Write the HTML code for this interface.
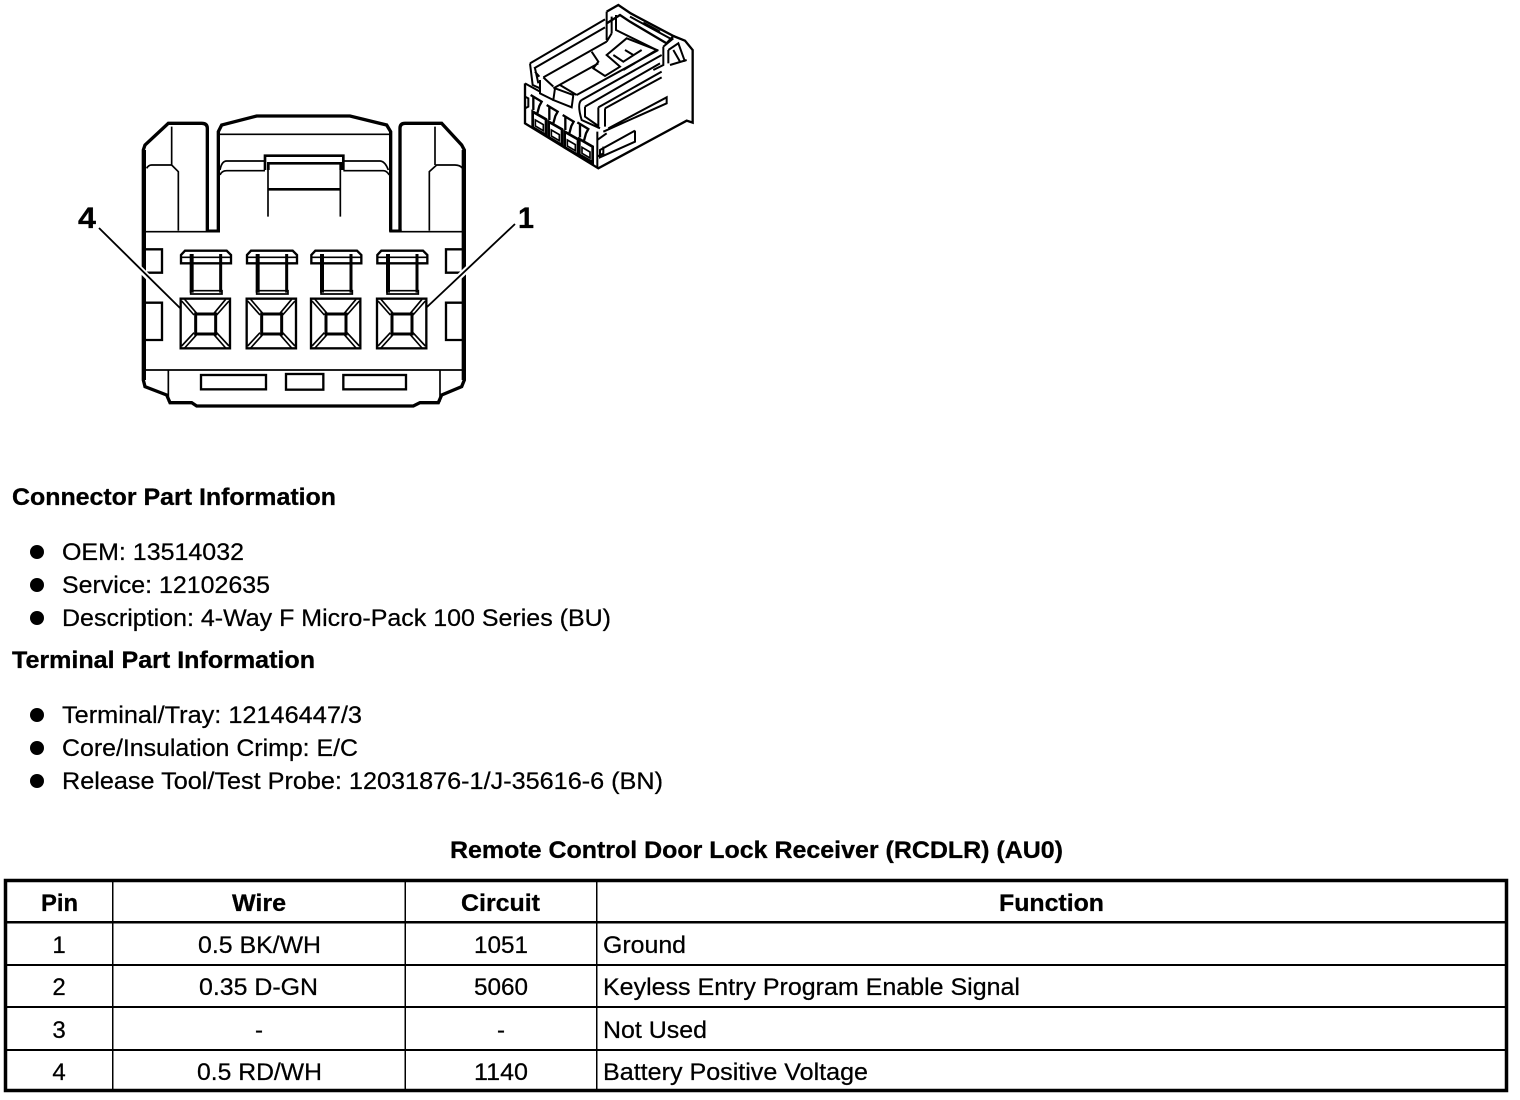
<!DOCTYPE html>
<html><head><meta charset="utf-8"><style>
html,body{margin:0;padding:0;background:#fff}
svg{display:block}
text{font-family:"Liberation Sans",sans-serif;font-size:24px;fill:#000;stroke:#000;stroke-width:.25px}
.b{font-weight:bold;stroke-width:.3px}
.c{fill:none;stroke:#000;stroke-linejoin:miter}
</style></head><body>
<svg width="1520" height="1100" viewBox="0 0 1520 1100" xmlns="http://www.w3.org/2000/svg">
<rect width="1520" height="1100" fill="#fff"/>

<!-- Front connector -->
<g transform="translate(120,100) scale(.33333)" class="c">
 <defs>
  <g id="pin">
   <path stroke-width="7" d="M3 490V465L15 452H140L153 465V490Z"/>
   <path stroke-width="5" d="M3 472H153"/>
   <path stroke-width="12" d="M35 462V578"/>
   <path stroke-width="9" d="M122 462V578"/>
   <path stroke-width="5" d="M32 572H126V582H32Z"/>
   <rect x="2" y="596" width="148" height="149" stroke-width="7"/>
   <rect x="47" y="642" width="60" height="60" stroke-width="9"/>
   <path stroke-width="5" d="M5 603L42 645M14 598L50 640M147 603L110 645M137 598L102 640M5 738L42 698M14 744L50 704M147 738L110 698M137 744L102 704"/>
  </g>
 </defs>
 <path stroke-width="10" d="M262 395V85Q262 70 245 70H145L75 135L70 150V840L75 860L140 885L150 908H215L230 918H880L900 908H955L965 885L1025 860L1033 840V150L1025 135L965 70H855Q840 70 840 85V395"/>
 <path stroke-width="12" d="M72 150V840M1031 150V840"/>
 <path stroke-width="10" d="M295 395V95L305 75L410 48H690L800 75L812 95V395"/>
 <path stroke-width="9" d="M258 393H300M808 393H845"/>
 <path stroke-width="5" d="M78 395H262M840 395H1030M155 80V195M80 205Q85 195 95 195H155L175 215V392M945 80V195M1028 205Q1020 195 1005 195H950L928 215V392M300 103H808"/>
 <path stroke-width="5" d="M300 210Q305 183 320 183H435M805 210Q795 183 780 183H670M300 225Q305 212 320 212H435M670 212H790Q800 212 808 225M444 190V350M661 190V350"/>
 <path stroke-width="8" d="M435 210V167H670V210M445 210V190H662V210M445 268H662"/>
 <path stroke-width="7" d="M78 448H126V518H78M78 608H126V720H78M1030 448H978V518H1030M1030 608H978V720H1030"/>
 <path stroke="#fff" stroke-width="18" d="M45 492L100 547M1060 490L1005 542"/>
 <path stroke-width="5.5" d="M-63 384L180 624M1185 372L921 621"/>
 <path stroke-width="5" d="M78 810H1028M145 810V905M960 810V905"/>
 <rect x="243" y="825" width="195" height="43" stroke-width="7"/>
 <rect x="498" y="822" width="112" height="47" stroke-width="7"/>
 <rect x="670" y="825" width="188" height="43" stroke-width="7"/>
 <use href="#pin" x="180"/>
 <use href="#pin" x="378"/>
 <use href="#pin" x="571"/>
 <use href="#pin" x="769"/>
</g>
<text class="b" x="78" y="228" style="font-size:30px" textLength="18" lengthAdjust="spacingAndGlyphs">4</text>
<text class="b" x="518" y="228" style="font-size:30px" textLength="16" lengthAdjust="spacingAndGlyphs">1</text>

<!-- Isometric connector -->
<g transform="translate(510,0) scale(.33333)" class="c" stroke-width="6">
 <defs>
  <g id="iso">
   <path d="M68 335L108 358V405L68 382Z" stroke-width="8"/>
   <path d="M76 360L100 374V392L76 378Z" stroke-width="5"/>
   <path d="M62 285L95 305L88 318L82 340M70 292V330" stroke-width="7"/>
  </g>
 </defs>
 <path stroke-width="7" d="M45 250V370L265 505L530 362L548 368V150L525 122L490 108"/>
 <path stroke-width="7" d="M290 35L325 15L362 40L490 108L470 130L360 65L330 45L290 70"/>
 <path d="M290 35V120M305 50V100M318 45V90L440 150M360 50L480 115M400 68L450 95"/>
 <path d="M60 190L285 58M72 205L285 82M60 190L68 255L90 265M75 205L85 250M45 250L90 275M75 215L88 230"/>
 <path d="M100 232L290 125M90 240V280L130 300M100 232L130 260M290 125L305 100"/>
 <path d="M130 265L265 190M135 265L130 300L185 322L190 285L135 265M150 255L200 285"/>
 <path d="M245 155L265 185L250 205L285 228L330 200L290 165L350 115L440 150L340 210M310 165L340 185L395 150M345 150L370 165"/>
 <path d="M200 285L445 150M215 300L455 165M225 320L450 190"/>
 <path d="M215 300Q200 310 215 360L270 385M225 320V350L265 378"/>
 <path d="M460 140V195L430 210M475 150V190M460 140L490 115M475 150L505 130L525 185M490 150L510 185M480 195L530 180"/>
 <path d="M265 322L455 215M285 325V380M285 325L455 232M265 322V385"/>
 <path d="M295 385L470 292V310L280 395"/>
 <path d="M375 392L270 450V472L375 425V392M262 395V505M262 420L290 400M262 470L280 460M280 440V465"/>
 <use href="#iso"/>
 <use href="#iso" x="48" y="30"/>
 <use href="#iso" x="96" y="60"/>
 <use href="#iso" x="140" y="82"/>
 <path d="M45 290L55 295V320L45 325"/>
</g>

<!-- Info text -->
<text class="b" x="12" y="505" textLength="324" lengthAdjust="spacingAndGlyphs">Connector Part Information</text>
<circle cx="37" cy="552" r="7"/><circle cx="37" cy="585" r="7"/><circle cx="37" cy="618" r="7"/>
<text x="62" y="560" textLength="182" lengthAdjust="spacingAndGlyphs">OEM: 13514032</text>
<text x="62" y="593" textLength="208" lengthAdjust="spacingAndGlyphs">Service: 12102635</text>
<text x="62" y="626" textLength="549" lengthAdjust="spacingAndGlyphs">Description: 4-Way F Micro-Pack 100 Series (BU)</text>
<text class="b" x="12" y="668" textLength="303" lengthAdjust="spacingAndGlyphs">Terminal Part Information</text>
<circle cx="37" cy="715" r="7"/><circle cx="37" cy="748" r="7"/><circle cx="37" cy="781" r="7"/>
<text x="62" y="723" textLength="300" lengthAdjust="spacingAndGlyphs">Terminal/Tray: 12146447/3</text>
<text x="62" y="756" textLength="296" lengthAdjust="spacingAndGlyphs">Core/Insulation Crimp: E/C</text>
<text x="62" y="789" textLength="601" lengthAdjust="spacingAndGlyphs">Release Tool/Test Probe: 12031876-1/J-35616-6 (BN)</text>
<text class="b" x="450" y="858" textLength="613" lengthAdjust="spacingAndGlyphs">Remote Control Door Lock Receiver (RCDLR) (AU0)</text>

<!-- Table -->
<rect x="5.5" y="880.5" width="1501" height="210" fill="none" stroke="#000" stroke-width="3.5"/>
<g fill="#000">
 <rect x="5" y="921" width="1502" height="2.5"/>
 <rect x="5" y="964" width="1502" height="2"/>
 <rect x="5" y="1006" width="1502" height="2"/>
 <rect x="5" y="1049" width="1502" height="2"/>
 <rect x="112" y="880" width="1.5" height="210"/>
 <rect x="404.5" y="880" width="1.5" height="210"/>
 <rect x="596" y="880" width="1.5" height="210"/>
</g>
<text class="b" x="41" y="911" textLength="37" lengthAdjust="spacingAndGlyphs">Pin</text>
<text class="b" x="232" y="911" textLength="54" lengthAdjust="spacingAndGlyphs">Wire</text>
<text class="b" x="461" y="911" textLength="79" lengthAdjust="spacingAndGlyphs">Circuit</text>
<text class="b" x="999" y="911" textLength="105" lengthAdjust="spacingAndGlyphs">Function</text>

<text x="59" y="953" text-anchor="middle">1</text>
<text x="198" y="953" textLength="123" lengthAdjust="spacingAndGlyphs">0.5 BK/WH</text>
<text x="474" y="953" textLength="54" lengthAdjust="spacingAndGlyphs">1051</text>
<text x="603" y="953" textLength="83" lengthAdjust="spacingAndGlyphs">Ground</text>

<text x="59" y="995" text-anchor="middle">2</text>
<text x="199" y="995" textLength="119" lengthAdjust="spacingAndGlyphs">0.35 D-GN</text>
<text x="474" y="995" textLength="54" lengthAdjust="spacingAndGlyphs">5060</text>
<text x="603" y="995" textLength="417" lengthAdjust="spacingAndGlyphs">Keyless Entry Program Enable Signal</text>

<text x="59" y="1038" text-anchor="middle">3</text>
<text x="259" y="1038" text-anchor="middle">-</text>
<text x="501" y="1038" text-anchor="middle">-</text>
<text x="603" y="1038" textLength="104" lengthAdjust="spacingAndGlyphs">Not Used</text>

<text x="59" y="1080" text-anchor="middle">4</text>
<text x="197" y="1080" textLength="125" lengthAdjust="spacingAndGlyphs">0.5 RD/WH</text>
<text x="474" y="1080" textLength="54" lengthAdjust="spacingAndGlyphs">1140</text>
<text x="603" y="1080" textLength="265" lengthAdjust="spacingAndGlyphs">Battery Positive Voltage</text>
</svg>
</body></html>
